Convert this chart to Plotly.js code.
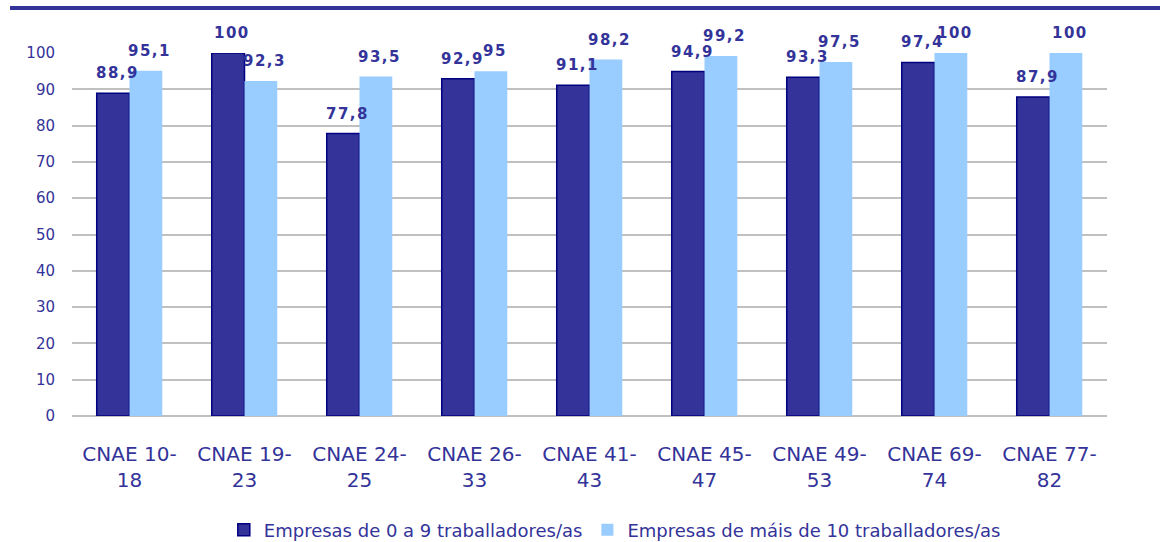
<!DOCTYPE html>
<html>
<head>
<meta charset="utf-8">
<script src="https://cdn.plot.ly/plotly-3.0.1.min.js"></script>
<style>
  html, body { margin: 0; padding: 0; background: #fff; }
  #topline { position: absolute; left: 10px; top: 6px; width: 1150px; height: 4px; background: #333399; }
  #plot { width: 1160px; height: 542px; }
  .annotation-text { letter-spacing: 1.5px; }
</style>
</head>
<body>
<div id="topline"></div>
<div id="plot"></div>
<script>
// categories and values
var categories = ['CNAE 10-<br>18', 'CNAE 19-<br>23', 'CNAE 24-<br>25', 'CNAE 26-<br>33', 'CNAE 41-<br>43',
                  'CNAE 45-<br>47', 'CNAE 49-<br>53', 'CNAE 69-<br>74', 'CNAE 77-<br>82'];
var smallFirms = [88.9, 100, 77.8, 92.9, 91.1, 94.9, 93.3, 97.4, 87.9];
var bigFirms = [95.1, 92.3, 93.5, 95, 98.2, 99.2, 97.5, 100, 100];
var yTicks = [0, 10, 20, 30, 40, 50, 60, 70, 80, 90, 100];

var bargap = 0.43;
function fmt(v) { return String(v).replace('.', ','); }

var trace1 = {
    x: categories,
    y: smallFirms,
    type: 'bar',
    name: 'Empresas de 0 a 9 traballadores/as',
    marker: { color: '#333399', line: { color: '#000080', width: 1.5 } },
    hoverinfo: 'none'
};

var trace2 = {
    x: categories,
    y: bigFirms,
    type: 'bar',
    name: 'Empresas de máis de 10 traballadores/as',
    marker: { color: '#99ccff' },
    hoverinfo: 'none'
};

// value labels above each bar, placed on the category axis (index +/- quarter of group width)
var offset = (1 - bargap) / 4;
var annotations = [];
function addLabels(values, dx) {
    values.forEach(function (v, i) {
        annotations.push({
            x: i + dx, y: v, xref: 'x', yref: 'y',
            text: fmt(v), showarrow: false,
            yanchor: 'bottom', yshift: 9, xshift: 4,
            font: { family: 'DejaVu Sans', size: 15, color: '#333399', weight: 'bold' }
        });
    });
}
addLabels(smallFirms, -offset);
addLabels(bigFirms, offset);

var layout = {
    width: 1160,
    height: 542,
    margin: { l: 72, r: 53, t: 53, b: 126, autoexpand: false },
    paper_bgcolor: 'rgba(0,0,0,0)',
    plot_bgcolor: '#fff',
    font: { family: 'DejaVu Sans', color: '#333399' },
    barmode: 'group',
    bargap: bargap,
    bargroupgap: 0,
    showlegend: true,
    legend: {
        orientation: 'h',
        xref: 'container', yref: 'container',
        x: 0.53, xanchor: 'center',
        y: 0.022, yanchor: 'middle',
        font: { size: 18, color: '#333399' },
        itemwidth: 30
    },
    annotations: annotations,
    xaxis: {
        tickfont: { size: 20, color: '#333399' },
        showgrid: false,
        showline: false,
        ticks: '',
        automargin: false,
        ticklabelstandoff: 24
    },
    yaxis: {
        range: [0, 100],
        tickvals: yTicks,
        ticktext: yTicks.map(String),
        tickfont: { size: 15, color: '#333399' },
        showgrid: true,
        gridcolor: '#c0c0c0',
        gridwidth: 2,
        zeroline: true,
        zerolinecolor: '#c0c0c0',
        zerolinewidth: 2,
        showline: false,
        ticks: '',
        automargin: false,
        ticklabelstandoff: 16
    }
};

Plotly.newPlot('plot', [trace1, trace2], layout, { displayModeBar: false, staticPlot: true });
</script>
</body>
</html>
